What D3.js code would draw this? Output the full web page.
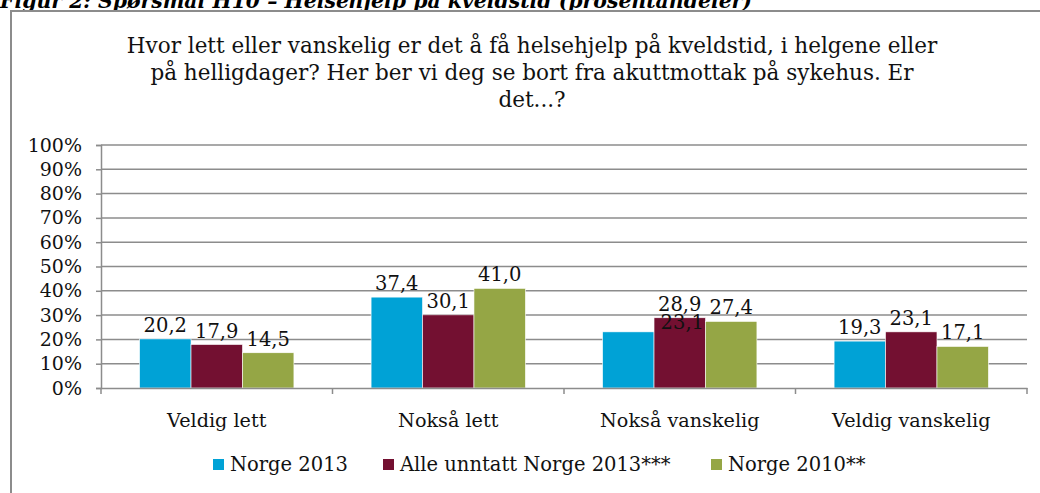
<!DOCTYPE html>
<html lang="no">
<head>
    <meta charset="UTF-8">
    <title>Helsehjelp på kveldstid</title>
    <script src="https://d3js.org/d3.v7.min.js"></script>
    <style>
        body {
            margin: 0;
            padding: 0;
            background-color: #ffffff;
        }
        svg {
            display: block;
            font-family: Georgia, "DejaVu Serif", serif;
        }
        .grid line {
            stroke: #8c8c8c;
            stroke-width: 1.5;
        }
        .axis path,
        .axis line {
            stroke: #8c8c8c;
            stroke-width: 1.5;
        }
        .axis text {
            fill: #111;
        }
    </style>
</head>
<body>
    <svg id="chart" width="1040" height="493"></svg>

    <script>
        // Data
        const categories = ["Veldig lett", "Nokså lett", "Nokså vanskelig", "Veldig vanskelig"];
        const seriesNames = ["Norge 2013", "Alle unntatt Norge 2013***", "Norge 2010**"];
        const norge2013 = [20.2, 37.4, 23.1, 19.3];
        const alleUnntatt = [17.9, 30.1, 28.9, 23.1];
        const norge2010 = [14.5, 41.0, 27.4, 17.1];
        const yTicks = [0, 10, 20, 30, 40, 50, 60, 70, 80, 90, 100];
        const colors = ["#00a2d6", "#731031", "#95a645"];

        const seriesValues = [norge2013, alleUnntatt, norge2010];

        const svg = d3.select("#chart");

        // Plot area
        const margin = {top: 145, right: 13, bottom: 105, left: 101};
        const width = 1040 - margin.left - margin.right;
        const height = 493 - margin.top - margin.bottom;

        // Caption above the frame (cut off at the top in the original)
        svg.append("text")
            .attr("x", 0)
            .attr("y", 8)
            .attr("font-size", 20.4)
            .attr("font-weight", "bold")
            .attr("font-style", "italic")
            .text("Figur 2: Spørsmål H10 – Helsehjelp på kveldstid (prosentandeler)");

        // Chart frame
        svg.append("rect")
            .attr("x", 11)
            .attr("y", 11)
            .attr("width", 1040)
            .attr("height", 500)
            .attr("fill", "#fff")
            .attr("stroke", "#8c8c8c")
            .attr("stroke-width", 2);

        // Title
        const titleLines = [
            "Hvor lett eller vanskelig er det å få helsehjelp på kveldstid, i helgene eller",
            "på helligdager? Her ber vi deg se bort fra akuttmottak på sykehus. Er",
            "det...?"
        ];
        svg.append("g")
            .selectAll("text")
            .data(titleLines)
            .join("text")
            .attr("x", 532)
            .attr("y", (d, i) => 53 + i * 27)
            .attr("text-anchor", "middle")
            .attr("font-size", 21.5)
            .attr("fill", "#111")
            .text(d => d);

        const g = svg.append("g")
            .attr("transform", `translate(${margin.left},${margin.top})`);

        // Scales
        const x0 = d3.scaleBand()
            .domain(categories)
            .range([0, width])
            .paddingInner(0)
            .paddingOuter(0);

        // Excel style: gap width 150% -> bar width = band / 4.5
        const barW = x0.bandwidth() / 4.5;
        const x1 = d3.scaleBand()
            .domain(d3.range(seriesNames.length))
            .range([barW * 0.75, barW * 3.75]);

        const y = d3.scaleLinear()
            .domain([0, 100])
            .range([height, 0]);

        // Gridlines
        g.append("g")
            .attr("class", "grid")
            .selectAll("line")
            .data(yTicks.filter(d => d > 0))
            .join("line")
            .attr("x1", 0)
            .attr("x2", width)
            .attr("y1", d => y(d))
            .attr("y2", d => y(d));

        // Bars
        const rows = categories.map((c, ci) => ({
            cat: c,
            values: seriesValues.map((s, si) => ({si: si, v: s[ci]}))
        }));

        const groups = g.selectAll(".group")
            .data(rows)
            .join("g")
            .attr("class", "group")
            .attr("transform", d => `translate(${x0(d.cat)},0)`);

        groups.selectAll("rect")
            .data(d => d.values)
            .join("rect")
            .attr("x", d => x1(d.si))
            .attr("y", d => y(d.v))
            .attr("width", x1.bandwidth())
            .attr("height", d => height - y(d.v))
            .attr("fill", d => colors[d.si])
            .attr("stroke", "#fff")
            .attr("stroke-width", 0.6);

        // Value labels (the Norge 2013 label in "Nokså vanskelig" was moved in the original)
        groups.selectAll(".val")
            .data(d => d.values.map(v => Object.assign({cat: d.cat}, v)))
            .join("text")
            .attr("class", "val")
            .attr("x", d => {
                let cx = x1(d.si) + x1.bandwidth() / 2;
                if (d.cat === "Nokså vanskelig" && d.si === 0) cx += 54;
                return cx;
            })
            .attr("y", d => {
                let ty = y(d.v) - 7;
                if (d.cat === "Nokså vanskelig" && d.si === 0) ty += 4;
                return ty;
            })
            .attr("text-anchor", "middle")
            .attr("font-size", 19.5)
            .attr("fill", "#111")
            .text(d => d3.format(".1f")(d.v).replace(".", ","));

        // Y axis
        const yAxis = d3.axisLeft(y)
            .tickValues(yTicks)
            .tickSize(5)
            .tickPadding(14)
            .tickFormat(d => d + "%");

        g.append("g")
            .attr("class", "axis")
            .call(yAxis)
            .attr("font-family", null)
            .attr("font-size", 19);

        // X axis
        const xAxis = d3.axisBottom(x0)
            .tickSize(0)
            .tickPadding(25);

        const xg = g.append("g")
            .attr("class", "axis")
            .attr("transform", `translate(0,${height})`)
            .call(xAxis)
            .attr("font-family", null)
            .attr("font-size", 19.2);

        // category separators
        xg.selectAll(".sep")
            .data(d3.range(categories.length + 1))
            .join("line")
            .attr("class", "sep")
            .attr("x1", d => d * x0.bandwidth())
            .attr("x2", d => d * x0.bandwidth())
            .attr("y1", 0)
            .attr("y2", 6);

        // Legend
        const legendX = [213, 383, 711];
        const legend = svg.append("g")
            .selectAll("g")
            .data(seriesNames)
            .join("g")
            .attr("transform", (d, i) => `translate(${legendX[i]},459)`);

        legend.append("rect")
            .attr("width", 11)
            .attr("height", 11)
            .attr("fill", (d, i) => colors[i]);

        legend.append("text")
            .attr("x", 17)
            .attr("y", 12)
            .attr("font-size", 19.5)
            .attr("fill", "#111")
            .text(d => d);
    </script>
</body>
</html>
